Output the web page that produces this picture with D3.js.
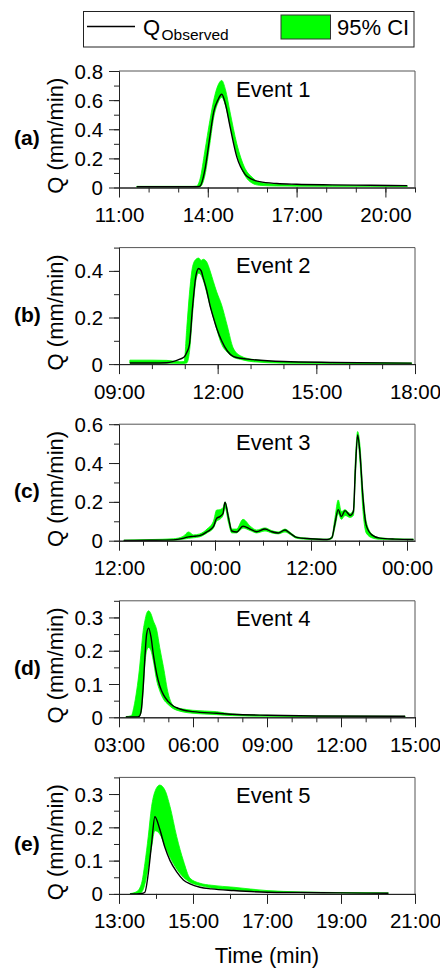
<!DOCTYPE html>
<html>
<head>
<meta charset="utf-8">
<script src="https://cdn.jsdelivr.net/npm/d3@7"></script>
<style>
  body { margin: 0; background: #fff; }
  svg { display: block; font-family: "Liberation Sans", Arial, sans-serif; }
</style>
</head>
<body>
<div id="chart"></div>
<script>
// ---- data (time in hours, Q in mm/min) ----
const eventNames = ['Event 1', 'Event 2', 'Event 3', 'Event 4', 'Event 5'];
const panelLetters = ['(a)', '(b)', '(c)', '(d)', '(e)'];

const xDomains = [[11, 21], [9, 18], [12, 49], [3, 15], [13, 21]];
const xMajorStep = [3, 3, 12, 3, 2];
const xMinorStep = [1, 1, 3, 1, 1];
const yMax = [0.8, 0.5, 0.6, 0.35, 0.35];
const yMajorStep = [0.2, 0.2, 0.2, 0.1, 0.1];
const yMinorStep = [0.1, 0.1, 0.1, 0.05, 0.05];

const t1 =   [11.6, 13.5, 13.62, 13.74, 13.9, 14.07, 14.2, 14.34, 14.47, 14.6, 14.75, 14.98, 15.26, 15.5, 15.75, 16.33, 17.0, 18.2, 19.5, 20.74];
const obs1 = [0.005, 0.005, 0.005, 0.01, 0.12, 0.35, 0.52, 0.60, 0.64, 0.57, 0.42, 0.21, 0.09, 0.055, 0.04, 0.027, 0.022, 0.018, 0.015, 0.013];
const hi1 =  [0.008, 0.008, 0.01, 0.06, 0.25, 0.46, 0.60, 0.70, 0.735, 0.67, 0.52, 0.30, 0.13, 0.07, 0.035, 0.022, 0.017, 0.014, 0.012, 0.011];
const lo1 =  [0.003, 0.003, 0.003, 0.005, 0.08, 0.30, 0.48, 0.58, 0.62, 0.56, 0.43, 0.23, 0.08, 0.03, 0.015, 0.01, 0.009, 0.008, 0.008, 0.007];

const t2 =   [9.33, 10.0, 10.45, 10.85, 10.98, 11.06, 11.14, 11.24, 11.34, 11.42, 11.5, 11.56, 11.66, 11.77, 11.87, 11.97, 12.12, 12.3, 12.47, 12.7, 13.08, 14.0, 15.5, 17.9];
const obs2 = [0.005, 0.005, 0.006, 0.021, 0.03, 0.05, 0.083, 0.25, 0.38, 0.41, 0.40, 0.37, 0.32, 0.25, 0.20, 0.154, 0.10, 0.055, 0.033, 0.025, 0.019, 0.011, 0.007, 0.004];
const hi2 =  [0.017, 0.017, 0.016, 0.01, 0.011, 0.154, 0.30, 0.42, 0.45, 0.455, 0.445, 0.45, 0.44, 0.40, 0.354, 0.31, 0.254, 0.16, 0.07, 0.035, 0.02, 0.01, 0.007, 0.005];
const lo2 =  [0.004, 0.004, 0.004, 0.003, 0.003, 0.005, 0.05, 0.22, 0.36, 0.39, 0.38, 0.36, 0.31, 0.25, 0.20, 0.15, 0.085, 0.05, 0.03, 0.02, 0.01, 0.004, 0.003, 0.002];

const t3 =   [12.6, 16, 18.8, 20.0, 20.7, 21.3, 22.1, 23.0, 23.8, 24.2, 24.6, 25.0, 25.25, 25.7, 26.1, 26.7, 27.5, 28.4, 29.2, 30.25, 31.1, 31.9, 32.75, 33.4, 34.2, 35.9, 38.0, 38.6, 39.0, 39.4, 39.8, 40.25, 40.9, 41.3, 41.55, 41.83, 42.1, 42.5, 42.9, 43.6, 44.6, 46.5, 48.8];
const obs3 = [0.001, 0.002, 0.004, 0.012, 0.02, 0.022, 0.026, 0.046, 0.072, 0.115, 0.124, 0.14, 0.198, 0.115, 0.05, 0.045, 0.075, 0.06, 0.046, 0.06, 0.046, 0.04, 0.055, 0.038, 0.017, 0.01, 0.006, 0.015, 0.09, 0.16, 0.124, 0.155, 0.13, 0.15, 0.37, 0.545, 0.46, 0.22, 0.08, 0.03, 0.013, 0.008, 0.006];
const hi3 =  [0.003, 0.006, 0.01, 0.022, 0.045, 0.03, 0.035, 0.06, 0.1, 0.158, 0.16, 0.17, 0.2, 0.13, 0.06, 0.06, 0.11, 0.075, 0.055, 0.066, 0.052, 0.045, 0.06, 0.043, 0.02, 0.012, 0.008, 0.02, 0.12, 0.21, 0.15, 0.16, 0.14, 0.16, 0.42, 0.562, 0.5, 0.25, 0.1, 0.035, 0.015, 0.01, 0.008];
const lo3 =  [0, 0.001, 0.002, 0.008, 0.012, 0.015, 0.02, 0.04, 0.065, 0.1, 0.11, 0.13, 0.17, 0.09, 0.04, 0.04, 0.065, 0.052, 0.04, 0.05, 0.04, 0.035, 0.045, 0.032, 0.012, 0.006, 0.003, 0.01, 0.07, 0.14, 0.11, 0.13, 0.12, 0.13, 0.33, 0.52, 0.42, 0.15, 0.04, 0.015, 0.007, 0.005, 0.004];

const t4 =   [3.28, 3.5, 3.6, 3.72, 3.82, 3.9, 3.98, 4.05, 4.12, 4.2, 4.3, 4.39, 4.53, 4.65, 4.8, 5.0, 5.2, 5.4, 5.6, 6.0, 6.96, 7.6, 9.0, 11.0, 14.6];
const obs4 = [0.001, 0.001, 0.001, 0.001, 0.003, 0.02, 0.09, 0.18, 0.25, 0.268, 0.24, 0.19, 0.13, 0.095, 0.068, 0.047, 0.034, 0.027, 0.022, 0.017, 0.012, 0.009, 0.006, 0.004, 0.003];
const hi4 =  [0.002, 0.005, 0.03, 0.082, 0.14, 0.2, 0.26, 0.29, 0.312, 0.32, 0.31, 0.29, 0.262, 0.21, 0.152, 0.07, 0.035, 0.028, 0.025, 0.021, 0.017, 0.01, 0.006, 0.004, 0.003];
const lo4 =  [0, 0, 0, 0.001, 0.003, 0.015, 0.08, 0.16, 0.2, 0.21, 0.2, 0.17, 0.11, 0.08, 0.055, 0.038, 0.026, 0.02, 0.016, 0.012, 0.008, 0.005, 0.003, 0.002, 0.001];

const t5 =   [13.3, 13.48, 13.61, 13.7, 13.79, 13.88, 13.97, 14.1, 14.24, 14.38, 14.56, 14.74, 14.92, 15.19, 15.5, 16.1, 17.0, 17.9, 19.0, 20.28];
const obs5 = [0, 0, 0.001, 0.005, 0.06, 0.15, 0.232, 0.195, 0.14, 0.1, 0.066, 0.042, 0.03, 0.02, 0.015, 0.01, 0.005, 0.004, 0.003, 0.002];
const hi5 =  [0.001, 0.007, 0.032, 0.092, 0.172, 0.262, 0.307, 0.327, 0.312, 0.262, 0.172, 0.1, 0.047, 0.032, 0.026, 0.02, 0.01, 0.006, 0.004, 0.003];
const lo5 =  [0, 0.001, 0.005, 0.03, 0.08, 0.14, 0.19, 0.18, 0.145, 0.11, 0.075, 0.05, 0.035, 0.025, 0.018, 0.012, 0.006, 0.004, 0.003, 0.002];

const times = [t1, t2, t3, t4, t5];
const observed = [obs1, obs2, obs3, obs4, obs5];
const upper = [hi1, hi2, hi3, hi4, hi5];
const lower = [lo1, lo2, lo3, lo4, lo5];

// ---- layout ----
const width = 440, height = 969;
const margin = {left: 119, right: 25};
const plotW = width - margin.left - margin.right;
const panelTop = 71, panelStep = 176.6, panelH = 116.5;
const green = '#00ff00';
const axisColor = '#222';
const tickStretch = 1.05;

const svg = d3.select('#chart')
    .append('svg')
    .attr('width', width)
    .attr('height', height);

// legend
const legend = svg.append('g');
legend.append('rect')
    .attr('x', 83.5).attr('y', 11.5)
    .attr('width', 330.5).attr('height', 35.5)
    .attr('fill', '#fff').attr('stroke', axisColor);
legend.append('line')
    .attr('x1', 87).attr('x2', 135)
    .attr('y1', 26.5).attr('y2', 26.5)
    .attr('stroke', '#000').attr('stroke-width', 1.5);
legend.append('text')
    .attr('x', 143).attr('y', 34.5)
    .attr('font-size', 22).text('Q');
legend.append('text')
    .attr('x', 161.5).attr('y', 40)
    .attr('font-size', 15.5).text('Observed');
legend.append('rect')
    .attr('x', 281).attr('y', 15)
    .attr('width', 49.5).attr('height', 24)
    .attr('fill', green).attr('stroke', '#333');
legend.append('text')
    .attr('x', 337).attr('y', 34.5)
    .attr('font-size', 22).text('95% CI');

const fmtTime = h => String(((Math.round(h) % 24) + 24) % 24).padStart(2, '0') + ':00';
const fmtQ = d => Math.abs(d) < 1e-9 ? '0' : d3.format('.1f')(d);

eventNames.forEach((name, i) => {
    const top = panelTop + i * panelStep;
    const g = svg.append('g')
        .attr('transform', 'translate(' + margin.left + ',' + top + ')');

    const xScale = d3.scaleLinear().domain(xDomains[i]).range([0, plotW]);
    const yScale = d3.scaleLinear().domain([0, yMax[i]]).range([panelH, 0]);

    const rows = times[i].map((t, k) => ({t: t, q: observed[i][k], lo: lower[i][k], hi: upper[i][k]}));

    // CI band
    const band = d3.area()
        .x(d => xScale(d.t))
        .y0(d => yScale(d.lo))
        .y1(d => yScale(d.hi))
        .curve(d3.curveMonotoneX);
    g.append('path')
        .datum(rows)
        .attr('d', band)
        .attr('fill', green)
        .attr('stroke', green)
        .attr('stroke-width', 0.8);

    // observed
    const line = d3.line()
        .x(d => xScale(d.t))
        .y(d => yScale(d.q))
        .curve(d3.curveMonotoneX);
    g.append('path')
        .datum(rows)
        .attr('d', line)
        .attr('fill', 'none')
        .attr('stroke', '#000')
        .attr('stroke-width', 1.4);

    // frame top/right
    g.append('path')
        .attr('d', 'M0,0H' + plotW + 'V' + panelH)
        .attr('fill', 'none')
        .attr('stroke', '#555');

    // axes: minor ticks first, then major with labels
    const [x0, x1] = xDomains[i];
    const xMinor = d3.range(x0, x1 + 1e-6, xMinorStep[i]);
    const xMajor = d3.range(x0, x1 + 1e-6, xMajorStep[i]);
    const yMinor = d3.range(0, yMax[i] + 1e-6, yMinorStep[i]);
    const yMajor = d3.range(0, yMax[i] + 1e-6, yMajorStep[i]);

    g.append('g').attr('class', 'axis')
        .attr('transform', 'translate(0,' + panelH + ')')
        .call(d3.axisBottom(xScale).tickValues(xMinor).tickSize(5).tickSizeOuter(0).tickFormat(''));
    const xAxis = g.append('g').attr('class', 'axis')
        .attr('transform', 'translate(0,' + panelH + ')')
        .call(d3.axisBottom(xScale).tickValues(xMajor).tickSize(10).tickSizeOuter(0).tickFormat(fmtTime));
    g.append('g').attr('class', 'axis')
        .call(d3.axisLeft(yScale).tickValues(yMinor).tickSize(5).tickSizeOuter(0).tickFormat(''));
    const yAxis = g.append('g').attr('class', 'axis')
        .call(d3.axisLeft(yScale).tickValues(yMajor).tickSize(10).tickSizeOuter(0).tickFormat(fmtQ));

    g.selectAll('.axis path, .axis line').attr('stroke', axisColor);
    g.selectAll('.axis text').attr('fill', '#000').attr('font-family', null).attr('font-size', 19.5);

    xAxis.selectAll('text')
        .attr('y', 34.5).attr('dy', null)
        .attr('transform', 'scale(' + tickStretch + ',1)');
    yAxis.selectAll('text')
        .attr('x', -16 / tickStretch).attr('dy', '0.36em')
        .attr('transform', 'scale(' + tickStretch + ',1)');

    // event label
    g.append('text')
        .attr('x', 236 - margin.left).attr('y', 25.5)
        .attr('font-size', 22)
        .text(name);

    // y title
    g.append('text')
        .attr('transform', 'translate(' + (63 - margin.left) + ',' + (panelH / 2 + 6.5) + ') rotate(-90)')
        .attr('text-anchor', 'middle')
        .attr('font-size', 22)
        .text('Q (mm/min)');

    // panel letter
    g.append('text')
        .attr('x', 14 - margin.left).attr('y', 74)
        .attr('font-size', 21)
        .attr('font-weight', 'bold')
        .text(panelLetters[i]);
});

svg.append('text')
    .attr('x', margin.left + plotW / 2).attr('y', 963)
    .attr('text-anchor', 'middle')
    .attr('font-size', 22)
    .text('Time (min)');
</script>
</body>
</html>
